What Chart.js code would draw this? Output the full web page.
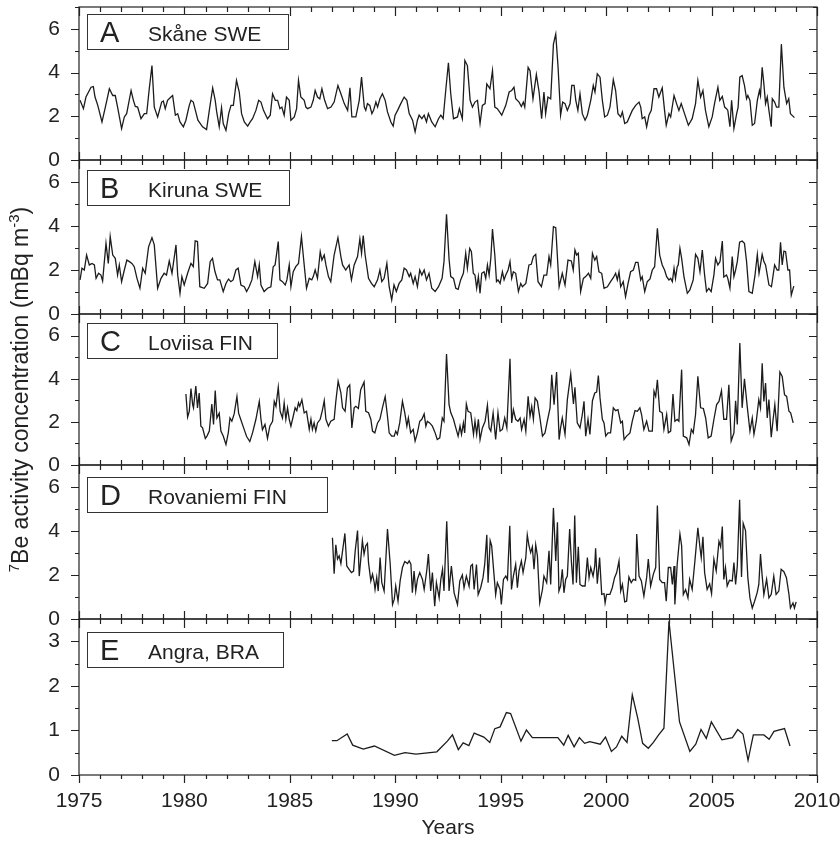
<!DOCTYPE html>
<html lang="en">
<head>
  <meta charset="UTF-8">
  <title>7Be activity concentration</title>
  <script src="https://cdn.jsdelivr.net/npm/chart.js"></script>
  <style>
    body {
      margin: 0;
      padding: 0;
      background: #fff;
    }

    .stack {
      position: relative;
      width: 840px;
      height: 843px;
    }

    .stack canvas {
      position: absolute;
      left: 0;
      top: 0;
    }
  </style>
</head>
<body>
  <div class="stack">
    <canvas id="panelA" width="840" height="843"></canvas>
    <canvas id="panelB" width="840" height="843"></canvas>
    <canvas id="panelC" width="840" height="843"></canvas>
    <canvas id="panelD" width="840" height="843"></canvas>
    <canvas id="panelE" width="840" height="843"></canvas>
  </div>

  <script>
    // A - Skåne SWE
    const skaneYears = [
      1975.05,1975.21,1975.33,1975.57,1975.68,1975.76,1975.89,1976.09,1976.25,1976.44,
      1976.60,1976.72,1976.83,1977.02,1977.15,1977.26,1977.47,1977.58,1977.67,1977.78,
      1977.94,1978.10,1978.21,1978.34,1978.46,1978.57,1978.73,1978.92,1979.00,1979.09,
      1979.20,1979.36,1979.44,1979.57,1979.68,1979.79,1979.95,1980.07,1980.23,1980.31,
      1980.42,1980.52,1980.64,1980.86,1981.05,1981.18,1981.34,1981.46,1981.53,1981.65,
      1981.76,1981.84,1981.97,1982.10,1982.21,1982.32,1982.47,1982.60,1982.71,1982.84,
      1983.00,1983.12,1983.23,1983.39,1983.52,1983.63,1983.75,1983.94,1984.07,1984.18,
      1984.31,1984.42,1984.53,1984.62,1984.73,1984.84,1984.97,1985.05,1985.21,1985.32,
      1985.41,1985.52,1985.68,1985.76,1985.84,1986.00,1986.11,1986.20,1986.31,1986.42,
      1986.52,1986.65,1986.79,1986.95,1987.10,1987.28,1987.42,1987.58,1987.74,1987.85,
      1987.94,1988.13,1988.29,1988.40,1988.53,1988.60,1988.68,1988.79,1988.89,1988.97,
      1989.08,1989.16,1989.27,1989.39,1989.52,1989.63,1989.79,1989.90,1989.99,1990.11,
      1990.26,1990.42,1990.55,1990.66,1990.82,1990.94,1991.05,1991.13,1991.26,1991.37,
      1991.48,1991.57,1991.73,1991.89,1992.05,1992.16,1992.27,1992.40,1992.52,1992.63,
      1992.76,1992.95,1993.04,1993.18,1993.30,1993.42,1993.55,1993.66,1993.78,1993.90,
      1994.02,1994.13,1994.26,1994.34,1994.49,1994.61,1994.72,1994.84,1995.05,1995.24,
      1995.40,1995.52,1995.63,1995.71,1995.87,1995.98,1996.07,1996.14,1996.30,1996.39,
      1996.53,1996.69,1996.82,1996.94,1997.05,1997.13,1997.24,1997.37,1997.50,1997.61,
      1997.72,1997.84,1997.94,1998.05,1998.16,1998.29,1998.37,1998.48,1998.56,1998.66,
      1998.76,1998.87,1999.00,1999.11,1999.27,1999.39,1999.47,1999.58,1999.71,1999.82,
      1999.93,2000.06,2000.18,2000.26,2000.34,2000.45,2000.56,2000.69,2000.77,2000.88,
      2001.00,2001.24,2001.40,2001.56,2001.64,2001.71,2001.83,2001.92,2002.03,2002.14,
      2002.27,2002.39,2002.50,2002.66,2002.77,2002.85,2002.98,2003.06,2003.22,2003.34,
      2003.45,2003.56,2003.69,2003.90,2004.08,2004.24,2004.35,2004.48,2004.59,2004.71,
      2004.87,2005.03,2005.14,2005.30,2005.39,2005.51,2005.62,2005.71,2005.77,2005.87,
      2005.95,2006.06,2006.19,2006.26,2006.34,2006.45,2006.56,2006.66,2006.72,2006.82,
      2006.93,2007.04,2007.17,2007.27,2007.32,2007.40,2007.48,2007.56,2007.64,2007.72,
      2007.83,2007.88,2007.99,2008.08,2008.19,2008.31,2008.43,2008.56,2008.66,2008.74,
      2008.93
    ];
    const skaneValues = [
      2.73,2.35,2.88,3.33,3.36,2.88,2.50,1.74,2.42,3.26,
      2.95,2.95,2.42,1.44,1.97,2.12,3.18,2.73,2.45,2.42,
      1.89,2.12,2.12,3.33,4.32,2.42,1.97,2.65,2.70,2.35,
      2.73,2.88,2.95,2.05,2.12,1.74,1.52,1.82,2.50,2.73,
      2.65,2.27,1.82,1.52,1.39,2.27,3.30,2.73,2.20,1.52,
      2.39,1.67,1.36,2.12,2.50,2.50,3.64,3.11,2.12,1.74,
      1.55,1.74,1.89,2.27,2.73,2.65,2.27,1.89,2.05,3.03,
      2.73,2.73,2.35,2.42,2.05,2.88,2.73,1.82,1.97,2.35,
      3.64,2.88,2.73,2.42,2.35,2.42,2.73,3.18,2.88,2.80,
      3.26,2.73,2.35,2.42,2.65,3.41,3.03,2.58,2.27,3.30,
      1.97,1.97,2.73,3.79,2.42,2.27,2.58,2.50,2.12,2.27,
      2.65,2.42,2.80,3.03,2.73,2.20,1.74,1.55,2.05,2.27,
      2.58,2.88,2.73,2.12,1.82,1.29,1.82,2.05,1.89,2.05,
      1.74,2.12,1.74,1.52,1.89,2.05,1.89,3.26,4.45,3.03,
      1.89,1.97,2.35,1.89,4.55,4.32,2.73,2.42,2.65,2.73,
      1.67,2.50,2.58,3.48,3.26,4.09,2.42,2.35,2.05,2.50,
      3.11,3.18,3.33,2.80,2.65,2.45,2.65,2.42,4.24,4.09,
      2.80,3.91,3.11,1.89,3.11,2.12,2.88,2.80,5.30,5.76,
      4.24,2.05,2.65,2.58,2.27,2.58,3.41,3.41,2.73,2.27,
      3.03,2.12,1.82,2.05,2.73,3.41,3.11,3.94,3.79,2.73,
      1.97,2.05,2.42,3.03,3.67,3.18,2.12,1.97,2.20,1.67,
      1.74,2.27,2.50,2.65,2.42,1.89,1.97,1.52,2.05,2.27,
      3.26,3.26,2.88,3.30,2.27,1.59,2.12,1.97,2.95,2.58,
      2.27,2.58,2.20,1.59,1.89,2.58,3.64,2.88,3.18,2.27,
      1.52,1.97,2.58,3.33,2.73,2.91,2.42,2.35,2.27,1.52,
      2.73,1.44,2.12,2.42,3.79,3.86,3.41,2.80,2.95,2.73,
      1.59,1.67,2.73,3.18,2.95,4.24,3.48,2.58,2.88,2.27,
      1.52,2.80,2.65,2.42,2.42,5.30,3.33,2.58,2.80,2.12,
      1.94
    ];

    // B - Kiruna SWE
    const kirunaYears = [
      1975.05,1975.14,1975.25,1975.36,1975.49,1975.62,1975.73,1975.81,1975.93,1976.04,
      1976.12,1976.28,1976.39,1976.48,1976.60,1976.72,1976.83,1976.91,1977.02,1977.15,
      1977.27,1977.39,1977.51,1977.62,1977.75,1977.89,1978.02,1978.14,1978.30,1978.46,
      1978.57,1978.73,1978.89,1979.04,1979.15,1979.28,1979.41,1979.60,1979.68,1979.79,
      1979.88,1979.99,1980.15,1980.31,1980.42,1980.51,1980.62,1980.73,1980.94,1981.10,
      1981.22,1981.33,1981.45,1981.57,1981.68,1981.84,1981.97,1982.09,1982.20,1982.31,
      1982.44,1982.55,1982.68,1982.84,1982.95,1983.07,1983.20,1983.34,1983.47,1983.55,
      1983.63,1983.78,1983.94,1984.10,1984.21,1984.30,1984.45,1984.53,1984.65,1984.78,
      1984.86,1984.97,1985.05,1985.16,1985.28,1985.41,1985.55,1985.68,1985.79,1985.92,
      1986.04,1986.11,1986.20,1986.31,1986.44,1986.52,1986.63,1986.71,1986.83,1986.94,
      1987.10,1987.28,1987.42,1987.50,1987.65,1987.81,1987.92,1988.05,1988.21,1988.32,
      1988.40,1988.48,1988.57,1988.73,1988.87,1989.00,1989.16,1989.27,1989.36,1989.47,
      1989.60,1989.71,1989.83,1989.94,1990.05,1990.18,1990.31,1990.42,1990.53,1990.66,
      1990.73,1990.85,1990.94,1991.05,1991.16,1991.26,1991.37,1991.48,1991.60,1991.73,
      1991.89,1992.05,1992.22,1992.31,1992.43,1992.55,1992.63,1992.76,1992.87,1992.98,
      1993.10,1993.23,1993.34,1993.42,1993.53,1993.61,1993.70,1993.78,1993.86,1993.94,
      1994.02,1994.10,1994.21,1994.29,1994.37,1994.45,1994.53,1994.61,1994.72,1994.80,
      1994.87,1994.97,1995.08,1995.16,1995.24,1995.35,1995.44,1995.52,1995.60,1995.71,
      1995.84,1995.95,1996.03,1996.19,1996.34,1996.45,1996.55,1996.66,1996.77,1996.93,
      1997.05,1997.18,1997.29,1997.37,1997.50,1997.61,1997.77,1997.92,1998.05,1998.19,
      1998.35,1998.44,1998.52,1998.60,1998.68,1998.79,1998.92,1999.03,1999.16,1999.27,
      1999.35,1999.46,1999.55,1999.66,1999.79,1999.90,2000.06,2000.21,2000.34,2000.45,
      2000.53,2000.61,2000.69,2000.81,2000.92,2001.04,2001.16,2001.29,2001.40,2001.51,
      2001.64,2001.71,2001.83,2001.95,2002.08,2002.19,2002.30,2002.43,2002.54,2002.66,
      2002.77,2002.87,2002.98,2003.06,2003.14,2003.22,2003.29,2003.37,2003.42,2003.50,
      2003.58,2003.69,2003.85,2003.97,2004.13,2004.24,2004.35,2004.45,2004.56,2004.67,
      2004.76,2004.87,2004.98,2005.11,2005.19,2005.30,2005.40,2005.51,2005.58,2005.71,
      2005.77,2005.87,2005.98,2006.06,2006.14,2006.22,2006.33,2006.45,2006.56,2006.66,
      2006.77,2006.93,2007.06,2007.17,2007.25,2007.32,2007.40,2007.48,2007.56,2007.72,
      2007.84,2007.99,2008.11,2008.19,2008.27,2008.35,2008.43,2008.51,2008.62,2008.70,
      2008.78,2008.90
    ];
    const kirunaValues = [
      1.55,2.08,2.00,2.68,2.23,2.30,2.23,1.62,1.85,1.77,
      1.50,3.21,2.30,3.52,2.68,2.53,1.77,2.23,1.47,2.00,
      2.45,2.38,2.30,2.15,1.62,1.17,2.08,1.85,3.05,3.47,
      3.14,1.17,1.62,1.85,1.77,2.41,1.85,3.14,1.77,0.94,
      1.70,1.32,1.85,2.30,2.15,3.32,3.29,1.24,1.17,1.39,
      2.38,2.53,1.92,1.55,1.55,1.02,1.39,1.59,1.47,1.55,
      2.00,2.08,1.32,1.24,1.02,1.24,1.55,2.38,1.70,2.23,
      1.32,1.02,1.17,1.24,2.15,2.23,3.29,1.55,1.47,1.32,
      1.55,2.23,1.24,1.92,2.15,2.30,3.52,2.23,1.17,1.62,
      1.55,1.70,2.00,1.62,2.83,2.45,2.68,2.23,1.70,1.47,
      2.68,3.47,2.61,2.23,2.00,2.23,1.55,2.23,2.61,3.41,
      2.76,3.56,2.68,1.62,1.39,1.24,1.55,2.00,1.47,1.62,
      2.30,1.24,0.64,1.32,1.02,1.39,1.55,2.08,2.00,1.70,
      1.85,1.39,1.70,1.24,2.00,1.77,2.00,1.55,1.85,1.17,
      1.02,1.24,1.62,2.38,4.53,2.50,1.70,1.62,1.17,1.12,
      1.55,1.85,2.76,2.08,2.98,2.83,1.85,1.77,1.17,1.70,
      0.94,1.85,1.92,1.62,2.23,1.77,2.53,3.86,2.68,1.47,
      1.55,1.39,1.92,1.55,1.77,2.00,2.38,1.62,1.92,1.85,
      1.02,1.39,1.24,1.39,2.23,2.26,2.61,2.71,1.47,1.24,
      1.77,1.77,2.61,2.23,3.97,3.92,1.24,1.85,1.32,2.45,
      2.41,2.00,2.91,2.68,2.76,1.02,1.62,1.70,1.85,1.62,
      2.76,2.45,2.61,1.92,1.85,1.17,1.24,1.47,1.65,1.85,
      1.55,1.92,1.24,1.47,0.79,1.39,1.92,2.00,2.35,2.35,
      1.55,1.70,1.02,1.47,1.59,2.00,2.15,3.89,2.68,2.23,
      2.00,1.70,1.55,1.62,1.47,2.08,1.62,2.15,2.23,2.98,
      2.53,1.70,0.94,1.09,1.55,2.71,2.53,1.92,2.91,1.77,
      1.02,1.17,1.02,1.77,2.53,2.23,2.38,3.32,1.68,1.77,
      1.62,1.17,2.61,1.70,2.00,2.38,3.26,3.32,3.21,2.38,
      1.02,0.94,1.77,2.71,1.85,2.23,2.71,2.38,2.23,1.32,
      1.24,2.23,2.00,2.00,3.26,2.23,2.86,2.83,2.00,2.00,
      0.86,1.27
    ];

    // C - Loviisa FIN
    const loviisaYears = [
      1980.07,1980.15,1980.23,1980.31,1980.39,1980.43,1980.54,1980.62,1980.70,1980.78,
      1980.86,1980.99,1981.07,1981.18,1981.30,1981.38,1981.46,1981.54,1981.65,1981.73,
      1981.84,1981.97,1982.08,1982.16,1982.25,1982.36,1982.49,1982.57,1982.68,1982.84,
      1982.95,1983.10,1983.23,1983.39,1983.55,1983.63,1983.70,1983.82,1983.94,1984.05,
      1984.18,1984.26,1984.34,1984.45,1984.54,1984.65,1984.73,1984.81,1984.89,1984.97,
      1985.05,1985.16,1985.25,1985.33,1985.41,1985.47,1985.57,1985.68,1985.79,1985.92,
      1986.00,1986.07,1986.15,1986.23,1986.31,1986.44,1986.55,1986.63,1986.71,1986.83,
      1986.94,1987.10,1987.18,1987.29,1987.42,1987.50,1987.62,1987.73,1987.84,1987.94,
      1988.05,1988.13,1988.25,1988.36,1988.52,1988.60,1988.73,1988.84,1988.92,1989.03,
      1989.16,1989.27,1989.39,1989.52,1989.63,1989.71,1989.83,1989.95,1990.02,1990.10,
      1990.21,1990.34,1990.45,1990.55,1990.62,1990.73,1990.85,1990.94,1991.05,1991.16,
      1991.26,1991.37,1991.45,1991.52,1991.63,1991.76,1991.89,1991.99,1992.11,1992.23,
      1992.31,1992.43,1992.55,1992.63,1992.76,1992.87,1992.98,1993.07,1993.14,1993.23,
      1993.29,1993.37,1993.45,1993.58,1993.71,1993.78,1993.86,1993.94,1994.02,1994.13,
      1994.26,1994.37,1994.45,1994.53,1994.64,1994.76,1994.87,1994.97,1995.08,1995.19,
      1995.29,1995.44,1995.52,1995.60,1995.71,1995.82,1995.92,1995.99,1996.11,1996.19,
      1996.30,1996.39,1996.47,1996.55,1996.63,1996.74,1996.86,1996.98,1997.10,1997.21,
      1997.34,1997.42,1997.53,1997.65,1997.77,1997.84,1997.92,1998.05,1998.16,1998.32,
      1998.45,1998.52,1998.63,1998.76,1998.87,1998.95,1999.03,1999.14,1999.23,1999.35,
      1999.46,1999.55,1999.63,1999.71,1999.82,1999.90,1999.98,2000.09,2000.21,2000.34,
      2000.45,2000.56,2000.69,2000.77,2000.85,2000.97,2001.13,2001.24,2001.37,2001.48,
      2001.60,2001.68,2001.79,2001.92,2002.03,2002.19,2002.27,2002.35,2002.43,2002.54,
      2002.66,2002.74,2002.87,2002.95,2003.06,2003.17,2003.26,2003.37,2003.45,2003.58,
      2003.66,2003.82,2003.93,2004.04,2004.13,2004.24,2004.35,2004.48,2004.61,2004.72,
      2004.84,2004.98,2005.11,2005.24,2005.35,2005.47,2005.58,2005.71,2005.82,2005.93,
      2006.06,2006.14,2006.22,2006.34,2006.45,2006.56,2006.69,2006.82,2006.93,2007.01,
      2007.12,2007.24,2007.32,2007.40,2007.48,2007.56,2007.64,2007.72,2007.83,2007.92,
      2008.00,2008.11,2008.24,2008.35,2008.46,2008.56,2008.67,2008.75,2008.87
    ];
    const loviisaValues = [
      3.29,2.22,2.49,3.54,2.80,2.65,3.66,2.65,3.34,1.80,
      1.72,1.23,1.34,1.57,2.83,1.88,3.45,2.18,2.40,1.57,
      1.34,0.95,1.49,2.18,2.03,2.37,3.17,2.40,2.09,1.63,
      1.32,1.09,1.49,2.12,2.95,2.12,1.63,1.88,1.23,1.80,
      2.03,2.95,2.72,3.60,2.49,2.18,2.88,2.12,2.65,2.12,
      1.80,2.26,2.65,2.52,2.88,2.72,3.03,2.42,2.49,1.65,
      2.12,1.65,1.95,1.57,1.95,2.12,2.57,2.98,2.12,1.80,
      2.03,2.12,2.95,3.88,3.34,2.65,2.49,3.58,3.71,1.72,
      2.65,2.72,2.62,3.49,3.85,2.49,2.42,2.12,1.57,1.49,
      1.95,2.12,2.65,3.17,2.26,1.49,1.34,1.34,1.57,1.42,
      1.95,2.95,2.42,1.80,2.18,1.49,1.65,1.11,1.49,2.03,
      2.12,2.37,1.80,2.03,1.95,1.80,1.49,1.18,1.26,2.18,
      2.03,5.14,2.80,2.43,2.12,1.72,1.34,1.80,1.42,1.95,
      1.49,2.83,2.49,2.42,1.42,2.03,1.42,2.12,1.18,1.72,
      2.03,2.77,1.72,1.57,2.42,1.18,2.42,1.57,1.65,2.18,
      1.72,4.92,1.95,2.57,2.12,2.03,2.18,1.65,2.12,1.57,
      3.18,2.26,2.72,2.12,3.11,2.95,2.18,1.34,1.49,2.03,
      2.65,4.18,2.80,4.31,1.18,1.72,2.18,1.42,3.03,4.22,
      2.83,3.60,1.95,1.72,2.34,2.95,1.34,2.12,1.42,2.98,
      3.34,3.38,4.15,3.11,2.12,1.95,1.34,1.49,1.49,2.65,
      2.52,2.57,1.95,2.03,1.18,1.34,1.49,2.03,2.52,2.49,
      2.65,2.34,1.65,2.03,1.57,1.57,3.42,3.18,3.95,2.49,
      2.42,1.65,2.34,1.49,1.57,3.29,2.03,2.11,2.03,4.42,
      1.34,1.26,0.95,1.65,1.49,2.34,4.11,2.65,2.62,2.18,
      1.26,1.34,2.11,2.80,2.95,3.45,2.12,2.12,3.72,1.11,
      1.49,2.98,1.88,5.65,2.65,4.00,2.72,1.57,2.18,1.42,
      2.03,3.03,2.65,4.72,2.95,3.80,2.18,3.03,1.29,2.12,
      2.80,1.57,4.31,4.11,3.26,3.18,2.49,2.42,1.95
    ];

    // D - Rovaniemi FIN
    const rovaniemiYears = [
      1987.02,1987.10,1987.18,1987.26,1987.34,1987.42,1987.50,1987.61,1987.70,1987.81,
      1987.92,1988.02,1988.10,1988.21,1988.29,1988.37,1988.44,1988.52,1988.60,1988.68,
      1988.73,1988.84,1988.92,1989.00,1989.04,1989.12,1989.19,1989.28,1989.36,1989.47,
      1989.63,1989.76,1989.87,1989.95,1990.02,1990.13,1990.23,1990.34,1990.45,1990.58,
      1990.66,1990.74,1990.81,1990.89,1990.97,1991.05,1991.16,1991.29,1991.37,1991.49,
      1991.57,1991.68,1991.76,1991.87,1991.95,1992.08,1992.16,1992.24,1992.31,1992.44,
      1992.55,1992.66,1992.79,1992.95,1993.06,1993.18,1993.26,1993.37,1993.50,1993.58,
      1993.66,1993.74,1993.85,1993.93,1994.05,1994.16,1994.24,1994.34,1994.40,1994.50,
      1994.57,1994.68,1994.76,1994.84,1994.97,1995.03,1995.13,1995.24,1995.32,1995.43,
      1995.51,1995.60,1995.71,1995.79,1995.87,1995.98,1996.06,1996.19,1996.26,1996.34,
      1996.42,1996.50,1996.58,1996.66,1996.74,1996.85,1996.98,1997.05,1997.18,1997.29,
      1997.37,1997.50,1997.61,1997.69,1997.76,1997.84,1997.92,1998.00,1998.08,1998.16,
      1998.27,1998.35,1998.43,1998.51,1998.59,1998.68,1998.76,1998.87,1999.00,1999.11,
      1999.19,1999.27,1999.38,1999.46,1999.50,1999.58,1999.69,1999.79,1999.90,1999.95,
      2000.02,2000.18,2000.29,2000.40,2000.50,2000.61,2000.69,2000.77,2000.88,2000.97,
      2001.08,2001.19,2001.29,2001.40,2001.45,2001.56,2001.67,2001.79,2001.92,2002.00,
      2002.11,2002.24,2002.35,2002.43,2002.54,2002.66,2002.77,2002.85,2002.95,2003.06,
      2003.14,2003.22,2003.26,2003.37,2003.50,2003.58,2003.66,2003.77,2003.88,2003.96,
      2004.08,2004.21,2004.35,2004.45,2004.51,2004.59,2004.67,2004.79,2004.91,2005.00,
      2005.11,2005.22,2005.35,2005.43,2005.51,2005.58,2005.66,2005.74,2005.85,2005.98,
      2006.06,2006.14,2006.22,2006.33,2006.42,2006.50,2006.61,2006.72,2006.82,2006.93,
      2007.04,2007.16,2007.24,2007.32,2007.40,2007.48,2007.61,2007.72,2007.83,2007.95,
      2008.06,2008.19,2008.30,2008.43,2008.55,2008.67,2008.74,2008.86,2008.93,2009.01
    ];
    const rovaniemiValues = [
      3.69,2.06,3.37,2.72,2.87,2.52,3.10,3.89,2.41,2.26,
      2.11,2.18,3.10,4.02,1.95,2.79,3.56,2.95,3.33,3.44,
      2.56,1.73,2.04,1.66,1.34,1.89,1.27,2.79,1.65,1.27,
      4.09,2.48,0.66,0.89,1.50,0.81,1.73,2.34,2.61,2.52,
      2.64,2.49,1.19,2.18,1.27,1.80,2.11,1.80,1.34,2.18,
      2.95,1.27,2.11,0.58,1.65,0.96,1.80,2.26,1.27,4.44,
      1.27,2.41,1.19,0.66,1.73,2.00,1.42,1.95,1.49,2.41,
      2.48,1.34,2.48,1.11,1.42,1.88,2.48,3.83,1.65,3.56,
      3.33,2.04,1.11,1.65,1.34,0.66,1.80,1.95,1.80,4.24,
      1.34,1.95,2.48,1.42,2.19,2.64,2.11,2.79,3.82,3.33,
      3.02,3.28,2.26,3.37,2.87,0.73,1.34,1.95,1.65,3.10,
      1.57,5.05,2.64,4.40,1.27,1.50,2.26,1.19,1.80,1.95,
      4.09,2.64,1.57,4.70,1.65,3.28,1.57,1.50,1.50,2.79,
      1.88,2.34,1.95,2.41,3.22,1.60,2.79,1.12,1.15,0.73,
      1.12,1.12,1.42,1.88,2.11,2.64,1.27,1.57,0.78,0.81,
      1.91,1.65,1.80,1.76,3.86,1.95,1.73,1.04,1.88,2.72,
      1.50,2.04,2.34,5.16,1.80,1.65,1.65,0.81,2.34,2.34,
      1.57,2.41,0.66,2.49,3.86,3.33,1.11,1.34,0.96,1.80,
      1.34,2.64,4.14,3.25,2.79,3.74,2.11,1.34,1.60,1.15,
      2.72,2.18,3.53,3.28,4.20,1.80,2.34,1.50,1.76,1.73,
      2.57,1.57,2.41,5.42,1.91,4.35,4.02,1.88,0.96,0.50,
      0.81,1.19,1.57,2.95,1.95,1.11,1.80,0.96,1.12,1.95,
      1.12,1.27,2.26,2.15,1.88,1.12,0.50,0.73,0.50,0.78
    ];

    // E - Angra, BRA
    const angraYears = [
      1986.99,1987.23,1987.72,1987.98,1988.48,1989.01,1989.96,1990.46,1990.98,1991.97,
      1992.47,1992.71,1992.99,1993.22,1993.49,1993.74,1994.20,1994.48,1994.72,1994.97,
      1995.27,1995.47,1995.96,1996.22,1996.50,1997.71,1997.99,1998.20,1998.48,1998.73,
      1998.98,1999.22,1999.72,1999.97,2000.25,2000.49,2000.74,2000.99,2001.24,2001.50,
      2001.73,2002.00,2002.24,2002.49,2002.74,2002.98,2003.48,2003.97,2004.25,2004.50,
      2004.75,2004.99,2005.49,2005.99,2006.24,2006.49,2006.73,2006.98,2007.48,2007.73,
      2007.96,2008.46,2008.72
    ];
    const angraValues = [
      0.77,0.77,0.92,0.67,0.58,0.65,0.44,0.50,0.47,0.52,
      0.76,0.90,0.57,0.72,0.66,0.94,0.85,0.73,1.04,1.08,
      1.40,1.38,0.76,1.01,0.84,0.84,0.67,0.89,0.63,0.84,
      0.71,0.75,0.69,0.85,0.53,0.63,0.87,0.73,1.80,1.27,
      0.71,0.60,0.73,0.90,1.05,3.45,1.19,0.53,0.69,1.02,
      0.82,1.19,0.79,0.84,1.02,0.92,0.33,0.90,0.90,0.80,
      0.98,1.04,0.65
    ];

    const yearTicks = [1975, 1980, 1985, 1990, 1995, 2000, 2005, 2010];
    const panelLetters = ['A', 'B', 'C', 'D', 'E'];
    const panelNames = ['Skåne SWE', 'Kiruna SWE', 'Loviisa FIN', 'Rovaniemi FIN', 'Angra, BRA'];

    // layout (pixels)
    const W = 840, H = 843;
    const plotLeft = 79, plotRight = 817;
    const panelEdges = [7, 160, 314, 465, 619, 775];
    const xAxisHeight = 66;
    const boxTop = [7, 10, 9, 12, 13];
    const boxWidth = [201, 202, 190, 240, 196];
    const FONT = "'Liberation Sans', Arial, Helvetica, sans-serif";
    const INK = '#222';

    // frame, ticks and the panel label box
    const framePlugin = {
      id: 'frame',
      afterDraw(chart, args, o) {
        const { ctx, chartArea: a } = chart;
        const x = chart.scales.x, y = chart.scales.y;
        ctx.save();
        ctx.strokeStyle = INK;
        ctx.lineWidth = 1.2;
        ctx.strokeRect(a.left, a.top, a.right - a.left, a.bottom - a.top);

        ctx.beginPath();
        for (let yr = 1975; yr <= 2010; yr++) {
          const px = Math.round(x.getPixelForValue(yr)) + 0.5;
          const major = yr % 5 === 0;
          ctx.moveTo(px, a.top);
          ctx.lineTo(px, a.top + (major ? 9 : 5));
          ctx.moveTo(px, a.bottom);
          if (o.last) ctx.lineTo(px, a.bottom + (major ? 8 : 4));
          else ctx.lineTo(px, a.bottom - (major ? 8 : 5));
        }
        for (let i = 0; i * o.minor <= y.max + 1e-9; i++) {
          const v = i * o.minor;
          const py = Math.round(y.getPixelForValue(v)) + 0.5;
          const major = Math.abs(v / o.major - Math.round(v / o.major)) < 1e-6;
          const len = major ? 8 : 4;
          ctx.moveTo(a.left - len, py);
          ctx.lineTo(a.left, py);
          ctx.moveTo(a.right, py);
          ctx.lineTo(a.right - len, py);
        }
        ctx.stroke();

        // label box
        const bx = a.left + 8, by = a.top + o.boxTop;
        ctx.fillStyle = '#fff';
        ctx.fillRect(bx, by, o.boxWidth, 35);
        ctx.lineWidth = 1;
        ctx.strokeStyle = '#333';
        ctx.strokeRect(bx + 0.5, by + 0.5, o.boxWidth, 35);
        ctx.fillStyle = INK;
        ctx.textBaseline = 'alphabetic';
        ctx.font = '29px ' + FONT;
        ctx.fillText(o.letter, bx + 13, by + 28);
        ctx.font = '21px ' + FONT;
        ctx.fillText(o.name, bx + 61, by + 27);
        ctx.restore();
      }
    };

    // rotated y title with real superscripts, centred on the middle panel
    const yTitlePlugin = {
      id: 'ytitle',
      afterDraw(chart, args, o) {
        if (!o.show) return;
        const { ctx, chartArea: a } = chart;
        const parts = [['7', true], ['Be activity concentration (mBq m', false], ['-3', true], [')', false]];
        const big = '23px ' + FONT, small = '15px ' + FONT;
        ctx.save();
        let total = 0;
        parts.forEach(([t, sup]) => { ctx.font = sup ? small : big; total += ctx.measureText(t).width; });
        ctx.translate(o.baseline, (a.top + a.bottom) / 2);
        ctx.rotate(-Math.PI / 2);
        ctx.fillStyle = INK;
        ctx.textBaseline = 'alphabetic';
        let cx = -total / 2;
        parts.forEach(([t, sup]) => {
          ctx.font = sup ? small : big;
          ctx.fillText(t, cx, sup ? -9 : 0);
          cx += ctx.measureText(t).width;
        });
        ctx.restore();
      }
    };

    function createPanel(canvasId, idx, years, values) {
      const last = idx === 4;
      const points = years.map((yr, i) => ({ x: yr, y: values[i] }));
      const ctx = document.getElementById(canvasId).getContext('2d');

      return new Chart(ctx, {
        type: 'line',
        data: {
          datasets: [{
            label: panelNames[idx],
            data: points,
            borderColor: '#1c1c1c',
            borderWidth: 1.3,
            pointRadius: 0,
            tension: 0,
            fill: false
          }]
        },
        options: {
          responsive: false,
          animation: false,
          devicePixelRatio: 1,
          events: [],
          layout: {
            autoPadding: false,
            padding: {
              left: 0,
              right: W - plotRight,
              top: panelEdges[idx],
              bottom: last ? H - panelEdges[idx + 1] - xAxisHeight : H - panelEdges[idx + 1]
            }
          },
          scales: {
            x: {
              type: 'linear',
              min: 1975,
              max: 2010,
              display: last,
              grid: { display: false, drawTicks: false },
              border: { display: false },
              afterBuildTicks(scale) { scale.ticks = yearTicks.map(v => ({ value: v })); },
              ticks: {
                autoSkip: false,
                maxRotation: 0,
                padding: 14,
                color: INK,
                font: { family: FONT, size: 21 },
                callback: v => String(v)
              },
              title: {
                display: last,
                text: 'Years',
                color: INK,
                font: { family: FONT, size: 21 },
                padding: { top: 0, bottom: 0 }
              },
              afterFit(scale) {
                if (last) scale.height = xAxisHeight;
                scale.paddingLeft = 0;
                scale.paddingRight = 0;
              }
            },
            y: {
              type: 'linear',
              min: 0,
              max: last ? 3.5 : 7,
              grid: { display: false, drawTicks: false },
              border: { display: false },
              ticks: {
                stepSize: last ? 1 : 2,
                includeBounds: false,
                padding: 19,
                color: INK,
                font: { family: FONT, size: 21 },
                callback: v => String(v)
              },
              afterFit(scale) {
                scale.width = plotLeft;
                scale.paddingTop = 0;
                scale.paddingBottom = 0;
              }
            }
          },
          plugins: {
            legend: { display: false },
            tooltip: { enabled: false },
            frame: {
              last: last,
              major: last ? 1 : 2,
              minor: last ? 0.5 : 1,
              boxTop: boxTop[idx],
              boxWidth: boxWidth[idx],
              letter: panelLetters[idx],
              name: panelNames[idx]
            },
            ytitle: { show: idx === 2, baseline: 28 }
          }
        },
        plugins: [framePlugin, yTitlePlugin]
      });
    }

    createPanel('panelA', 0, skaneYears, skaneValues);
    createPanel('panelB', 1, kirunaYears, kirunaValues);
    createPanel('panelC', 2, loviisaYears, loviisaValues);
    createPanel('panelD', 3, rovaniemiYears, rovaniemiValues);
    createPanel('panelE', 4, angraYears, angraValues);
  </script>
</body>
</html>
